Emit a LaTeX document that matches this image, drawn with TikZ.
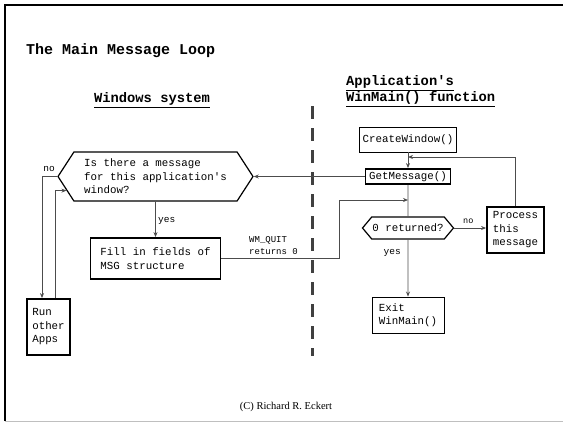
\documentclass[tikz,border=0pt]{standalone}
\usepackage{fontspec}
\usetikzlibrary{shapes.symbols,arrows.meta}
\newfontfamily\diagmono{Liberation Mono}
\newfontfamily\signfont{Liberation Serif}
\newcommand{\titlefont}{\diagmono\bfseries\fontsize{15}{17}\selectfont}
\newcommand{\headfont}{\diagmono\bfseries\fontsize{13.8}{16}\selectfont}
\newcommand{\boxfont}{\diagmono\fontsize{10.8}{13.5}\selectfont}
\newcommand{\lblfont}{\diagmono\fontsize{9.5}{12}\selectfont}
\begin{document}
\begin{tikzpicture}[x=1pt,y=-1pt,
  box/.style={draw, line width=.9pt, font=\boxfont, align=left, inner sep=0pt},
  thickbox/.style={box, line width=1.8pt},
  hexbox/.style={signal, signal to=east and west, draw, line width=1.2pt,
    font=\boxfont, align=left, inner sep=0pt},
  link/.style={draw=black!70, line width=.7pt},
  arr/.style={link, -{Stealth[length=5pt,width=4pt]}},
  lbl/.style={font=\lblfont, inner sep=1pt}]
\useasboundingbox (0,0) rectangle (563,424);
% frame
\draw[line width=2pt] (5,421) -- (5,5) -- (563,5);
\draw[black!25, line width=.8pt] (5,421) -- (563,421);
% headings
\node[anchor=west, font=\titlefont, inner sep=0pt] (title) at (26,51) {The Main Message Loop};
\node[font=\headfont, inner sep=0pt] (winsys) at (152,100) {\underline{Windows system}};
\node[anchor=west, font=\headfont, align=left, inner sep=0pt] (apphead) at (346,91)
  {\underline{Application's}\\\underline{WinMain() function}};
% separator
\coordinate (septop) at (312,106);
\coordinate (sepbot) at (312,356);
\draw[line width=3pt, black!75, dash pattern=on 13pt off 9pt] (septop) -- (sepbot);
% windows side
\node[hexbox, minimum width=195pt, minimum height=49pt, signal pointer angle=114] (isthere) at (155.5,176.5)
  {Is there a message\\for this application's\\window?};
\node[thickbox, minimum width=130pt, minimum height=41pt] (fill) at (155.5,258.5)
  {Fill in fields of\\MSG structure};
\node[thickbox, minimum width=43pt, minimum height=56pt] (run) at (48.5,327)
  {Run\\other\\Apps};
% application side
\node[box, minimum width=97pt, minimum height=25pt] (createwin) at (408,139.5) {CreateWindow()};
\node[thickbox, minimum width=85pt, minimum height=15pt] (getmsg) at (408,176.5) {GetMessage()};
\node[hexbox, minimum width=91pt, minimum height=22pt, signal pointer angle=100] (ret0) at (408,228) {0 returned?};
\node[thickbox, minimum width=57pt, minimum height=46pt] (process) at (515.5,230)
  {Process\\this\\message};
\node[box, minimum width=72pt, minimum height=36pt] (exitw) at (408,315) {Exit\\WinMain()};
\coordinate (join1) at (408,157);
\coordinate (join2) at (408,200);
\coordinate (qcorner) at (339,200);
% connectors
\draw[arr] (createwin) -- (getmsg);
\draw[arr] (process.north) |- (join1);
\draw[arr] (getmsg.west) -- (isthere.east);
\draw[link] (getmsg) -- (ret0);
\draw[arr] (fill.east) -| (qcorner) -- (join2);
\draw[arr] (ret0.east) -- (ret0.east -| process.west);
\draw[arr] (ret0) -- (exitw);
\draw[arr] (isthere) -- (fill);
\draw[arr] (isthere.west) -| ([xshift=-6.5pt]run.north);
\draw[arr] ([xshift=6.5pt]run.north) |- (isthere.189);
% labels
\node[lbl, anchor=east] (nol) at (56,169) {no};
\node[lbl, anchor=west] (yesl) at (157,221) {yes};
\node[lbl, anchor=west, align=left, font=\lblfont\fontsize{9}{12}\selectfont] (quitl) at (248,246) {WM\_QUIT\\returns 0};
\node[lbl, anchor=west, font=\lblfont\fontsize{8.5}{10}\selectfont] (nor) at (462,221) {no};
\node[lbl, anchor=east] (yesr) at (402,253) {yes};
\node[font=\signfont\fontsize{10.5}{12}\selectfont] (credit) at (286,407) {(C) Richard R. Eckert};
\end{tikzpicture}
\end{document}
